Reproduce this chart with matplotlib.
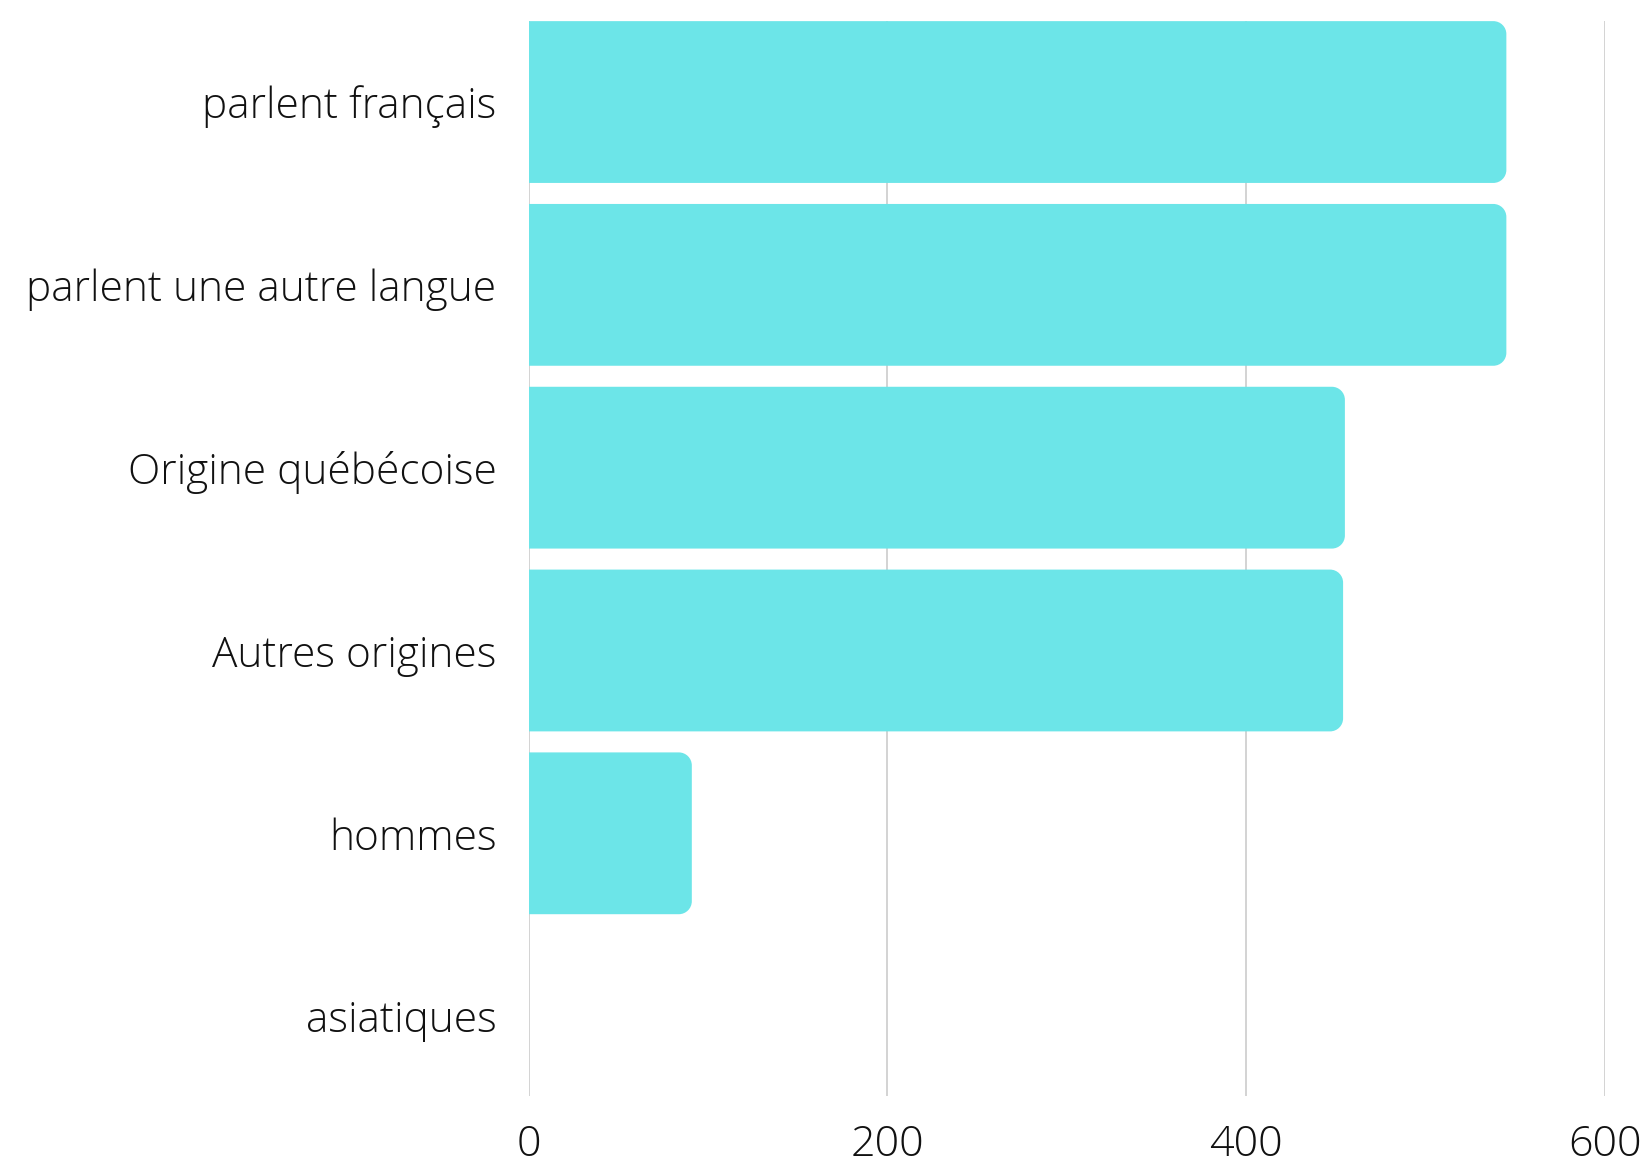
import matplotlib
matplotlib.use("Agg")
import matplotlib.pyplot as plt
from matplotlib.path import Path
from matplotlib.patches import PathPatch

categories = ["parlent français", "parlent une autre langue", "Origine québécoise",
              "Autres origines", "hommes", "asiatiques"]
values = [545, 545, 455, 454, 91, 0]
x_ticks = [0, 200, 400, 600]

BAR_COLOR = "#6ce5e8"
GRID_COLOR = "#cccccc"


def right_rounded_bar(y, width, height, rx, ry):
    """Path for a horizontal bar with rounded corners on the right only."""
    y0, y1 = y - height / 2, y + height / 2
    rx = min(rx, width)
    k = 0.5523
    verts = [
        (0, y0), (width - rx, y0),
        (width - rx + rx * k, y0), (width, y0 + ry - ry * k), (width, y0 + ry),
        (width, y1 - ry),
        (width, y1 - ry + ry * k), (width - rx + rx * k, y1), (width - rx, y1),
        (0, y1), (0, y0),
    ]
    codes = [Path.MOVETO, Path.LINETO,
             Path.CURVE4, Path.CURVE4, Path.CURVE4,
             Path.LINETO,
             Path.CURVE4, Path.CURVE4, Path.CURVE4,
             Path.LINETO, Path.CLOSEPOLY]
    return Path(verts, codes)


plt.rcParams['font.family'] = ['Open Sans', 'DejaVu Sans']

fig = plt.figure(figsize=(16.44, 11.63), dpi=100)
ax = fig.add_axes([0.3215, 0.0576, 0.9763 - 0.3215, 0.9819 - 0.0576])

bar_h = 0.885
ax.set_xlim(0, 600)
ax.set_ylim(5.437, -0.443)

# corner radius ~13 px, converted to data units
ax_w_px = (0.9763 - 0.3215) * 1644
ax_h_px = (0.9819 - 0.0576) * 1163
rx = 13 * 600 / ax_w_px
ry = 13 * (5.437 + 0.443) / ax_h_px

for i, v in enumerate(values):
    if v <= 0:
        continue
    ax.add_patch(PathPatch(right_rounded_bar(i, v, bar_h, rx, ry),
                           facecolor=BAR_COLOR, edgecolor="none", zorder=2))

ax.set_yticks(range(len(categories)))
ax.set_yticklabels(categories, fontsize=30.5, fontweight='light', color="#111111")
ax.set_xticks(x_ticks)
ax.set_xticklabels([str(t) for t in x_ticks], fontsize=31, fontweight='light', color="#111111")
ax.tick_params(axis='y', length=0, pad=23)
ax.tick_params(axis='x', length=0, pad=20)

ax.grid(axis='x', color=GRID_COLOR, linewidth=1.2, zorder=0)
ax.set_axisbelow(True)
for s in ax.spines.values():
    s.set_visible(False)

fig.savefig("out.png", dpi=100, facecolor="white")
